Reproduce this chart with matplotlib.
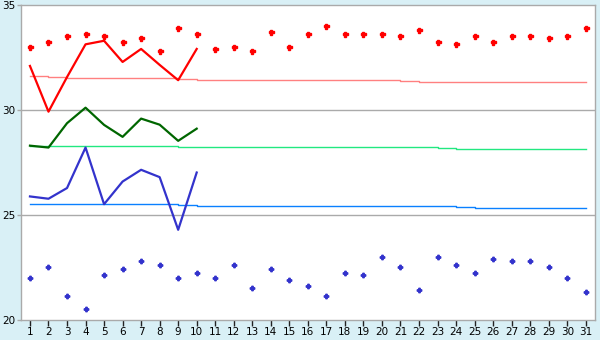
import matplotlib.pyplot as plt

days = list(range(1, 32))
first_days = list(range(1, 11))

# daily maxima / minima (markers)
red_points = [33.0, 33.24, 33.52, 33.62, 33.52, 33.24, 33.43, 32.81, 33.9, 33.62,
              32.9, 33.0, 32.81, 33.71, 33.0, 33.62, 34.0, 33.62, 33.62, 33.62,
              33.52, 33.81, 33.24, 33.14, 33.52, 33.24, 33.52, 33.52, 33.43, 33.52, 33.9]
blue_points = [22.0, 22.52, 21.14, 20.52, 22.14, 22.43, 22.81, 22.62, 22.0, 22.24,
               22.0, 22.62, 21.52, 22.43, 21.9, 21.62, 21.14, 22.24, 22.14, 23.0,
               22.52, 21.43, 23.0, 22.62, 22.24, 22.9, 22.81, 22.81, 22.52, 22.0, 21.33]

# current month lines
red_line = [32.11, 29.93, 31.58, 33.14, 33.31, 32.3, 32.92, 32.16, 31.43, 32.92]
green_line = [28.31, 28.22, 29.38, 30.12, 29.3, 28.73, 29.6, 29.31, 28.54, 29.12]
blue_line = [25.89, 25.78, 26.29, 28.22, 25.52, 26.6, 27.16, 26.81, 24.3, 27.03]

# long-term averages
red_avg = [31.62, 31.6, 31.55, 31.52, 31.52, 31.52, 31.52, 31.52, 31.5, 31.43,
           31.43, 31.43, 31.43, 31.43, 31.43, 31.43, 31.43, 31.43, 31.43, 31.43,
           31.4, 31.33, 31.33, 31.33, 31.33, 31.33, 31.33, 31.33, 31.33, 31.33, 31.33]
green_avg = [28.31, 28.31, 28.31, 28.31, 28.31, 28.31, 28.31, 28.31, 28.27, 28.27,
             28.27, 28.27, 28.27, 28.27, 28.27, 28.27, 28.27, 28.27, 28.27, 28.27,
             28.27, 28.27, 28.19, 28.14, 28.14, 28.14, 28.14, 28.14, 28.14, 28.14, 28.14]
blue_avg = [25.52, 25.52, 25.52, 25.52, 25.52, 25.52, 25.52, 25.52, 25.48, 25.43,
            25.43, 25.43, 25.43, 25.43, 25.43, 25.43, 25.43, 25.43, 25.43, 25.43,
            25.43, 25.43, 25.43, 25.38, 25.33, 25.33, 25.33, 25.33, 25.33, 25.33, 25.33]

y_ticks = [20, 25, 30, 35]

fig = plt.figure(figsize=(6, 3.4), dpi=100, facecolor="#d9f0f6")
ax = fig.add_axes([0.0345, 0.0588, 0.9572, 0.9256])
ax.set_facecolor("white")

for y in [25, 30]:
    ax.axhline(y, color="#aaaaaa", lw=1, zorder=1)

ax.plot(days, red_avg, color="#ff8080", lw=1, drawstyle="steps-post", zorder=2)
ax.plot(days, green_avg, color="#22e880", lw=1, drawstyle="steps-post", zorder=2)
ax.plot(days, blue_avg, color="#0a80ff", lw=1, drawstyle="steps-post", zorder=2)

ax.plot(first_days, red_line, color="#ff0000", lw=1.6, zorder=3)
ax.plot(first_days, green_line, color="#006600", lw=1.6, zorder=3)
ax.plot(first_days, blue_line, color="#3333cc", lw=1.6, zorder=3)

ax.plot(days, red_points, ls="none", marker="P", ms=3.6, color="#ff0000", mec="#ff0000", zorder=4)
ax.plot(days, blue_points, ls="none", marker="P", ms=3.2, color="#3333cc", mec="#3333cc", zorder=4)

ax.set_xlim(0.5, 31.5)
ax.set_ylim(20, 35)
ax.set_xticks(days)
ax.set_yticks(y_ticks)
ax.tick_params(axis="x", length=4, width=1, color="#222222", labelsize=7.5, pad=1)
ax.tick_params(axis="y", length=3, width=1, color="#aaaaaa", labelsize=7.5, pad=1)
for s in ax.spines.values():
    s.set_color("#aaaaaa")
    s.set_linewidth(1)

plt.savefig("out.png", dpi=100, facecolor=fig.get_facecolor())
